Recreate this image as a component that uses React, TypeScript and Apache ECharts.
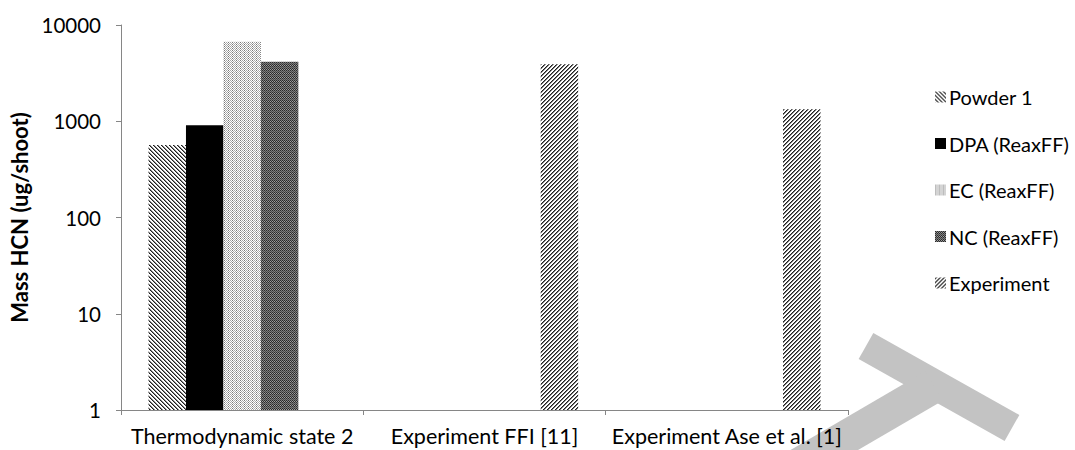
import React, { useEffect, useRef } from "react";
import * as echarts from "echarts";

// Mass of HCN per shoot, log scale
const categories = ["Thermodynamic state 2", "Experiment FFI [11]", "Experiment Ase et al. [1]"];
const powder1 = [567, null, null];
const dpaReaxFF = [908, null, null];
const ecReaxFF = [6710, null, null];
const ncReaxFF = [4155, null, null];
const experiment = [null, 3900, 1330];
const yTicks = [1, 10, 100, 1000, 10000];

const FONT = "Lato, 'Open Sans', sans-serif";

// Builds a small repeating tile as a data URL, one colour per pixel
function tile(size: number, colorAt: (x: number, y: number) => string) {
  const c = document.createElement("canvas");
  c.width = size;
  c.height = size;
  const ctx = c.getContext("2d")!;
  for (let y = 0; y < size; y++) {
    for (let x = 0; x < size; x++) {
      ctx.fillStyle = colorAt(x, y);
      ctx.fillRect(x, y, 1, 1);
    }
  }
  return { image: c.toDataURL(), repeat: "repeat", imageWidth: size, imageHeight: size } as any;
}

export default function App() {
  const ref = useRef<HTMLDivElement>(null);

  useEffect(() => {
    if (!ref.current) return;
    const chart = echarts.init(ref.current, undefined, { renderer: "svg" });

    // "\\\\" dense downward diagonal
    const downDiag = tile(4, (x, y) => {
      const m = (((x - y) % 4) + 4) % 4;
      return m === 0 ? "#1e1e1e" : m === 1 ? "#8a8a8a" : "#ffffff";
    });
    // "////" upward diagonal
    const upDiag = tile(4, (x, y) => {
      const m = (x + y) % 4;
      return m === 0 ? "#1e1e1e" : m === 1 ? "#7a7a7a" : "#ffffff";
    });
    // light dotted checker
    const dots = tile(4, (x, y) => {
      if ((x + y) % 2 !== 0) return "#ffffff";
      return (x + 2 * y) % 4 === 0 ? "#7a7a7a" : "#a8a8a8";
    });
    // dark checker
    const checker = tile(4, (x, y) => {
      if ((x + y) % 2 === 0) return y === 3 ? "#4a4a4a" : "#2b2b2b";
      return y === 1 ? "#a0a0a0" : "#7e7e7e";
    });

    const mk = (name: string, data: (number | null)[], color: any) => ({
      name,
      type: "bar",
      data,
      barGap: "0%",
      barCategoryGap: "22.7%",
      itemStyle: { color },
    });

    chart.setOption({
      animation: false,
      backgroundColor: "#ffffff",
      textStyle: { fontFamily: FONT },
      grid: {
        left: 121,
        right: 227,
        top: 25,
        bottom: 40,
        containLabel: false,
        outerBoundsMode: "none",
      },
      legend: {
        orient: "vertical",
        left: 930,
        top: 82,
        itemWidth: 11,
        itemHeight: 11,
        itemGap: 26.5,
        icon: "rect",
        textStyle: { fontFamily: FONT, fontSize: 20, color: "#000", lineHeight: 20, padding: [0, 0, 0, -2] },
        data: ["Powder 1", "DPA (ReaxFF)", "EC (ReaxFF)", "NC (ReaxFF)", "Experiment"],
      },
      xAxis: {
        type: "category",
        data: categories,
        axisLine: { lineStyle: { color: "#868686", width: 1 } },
        axisTick: { show: true, length: 5, lineStyle: { color: "#868686" } },
        axisLabel: { fontFamily: FONT, fontSize: 21.5, color: "#000", margin: 15, interval: 0 },
      },
      yAxis: {
        type: "log",
        logBase: 10,
        min: yTicks[0],
        max: yTicks[yTicks.length - 1],
        name: "Mass HCN (ug/shoot)",
        nameLocation: "middle",
        nameRotate: 90,
        nameGap: 88,
        nameTextStyle: { fontFamily: FONT, fontSize: 22, fontWeight: "bold", color: "#000" },
        splitLine: { show: false },
        axisLine: { show: true, lineStyle: { color: "#868686", width: 1 } },
        axisTick: { show: true, length: 5, lineStyle: { color: "#868686" } },
        axisLabel: {
          fontFamily: FONT,
          fontSize: 20.5,
          color: "#000",
          margin: 20,
          formatter: (v: number) => String(yTicks.find((t) => Math.abs(t - v) < 1e-6 * t) ?? Math.round(v)),
        },
      },
      series: [
        mk("Powder 1", powder1, downDiag),
        mk("DPA (ReaxFF)", dpaReaxFF, "#000000"),
        mk("EC (ReaxFF)", ecReaxFF, dots),
        mk("NC (ReaxFF)", ncReaxFF, checker),
        mk("Experiment", experiment, upDiag),
      ],
      graphic: [
        {
          type: "group",
          z: 100,
          children: [
            {
              type: "line",
              shape: { x1: 866, y1: 346, x2: 1012, y2: 428 },
              style: { stroke: "#c3c3c3", lineWidth: 30, lineCap: "butt" },
            },
            {
              type: "line",
              shape: { x1: 934, y1: 386, x2: 790, y2: 470 },
              style: { stroke: "#c3c3c3", lineWidth: 34, lineCap: "butt" },
            },
          ],
        },
      ],
    });

    return () => chart.dispose();
  }, []);

  return (
    <div
      ref={ref}
      style={{ position: "fixed", left: 0, top: 0, width: 1075, height: 450, background: "#fff" }}
    />
  );
}
